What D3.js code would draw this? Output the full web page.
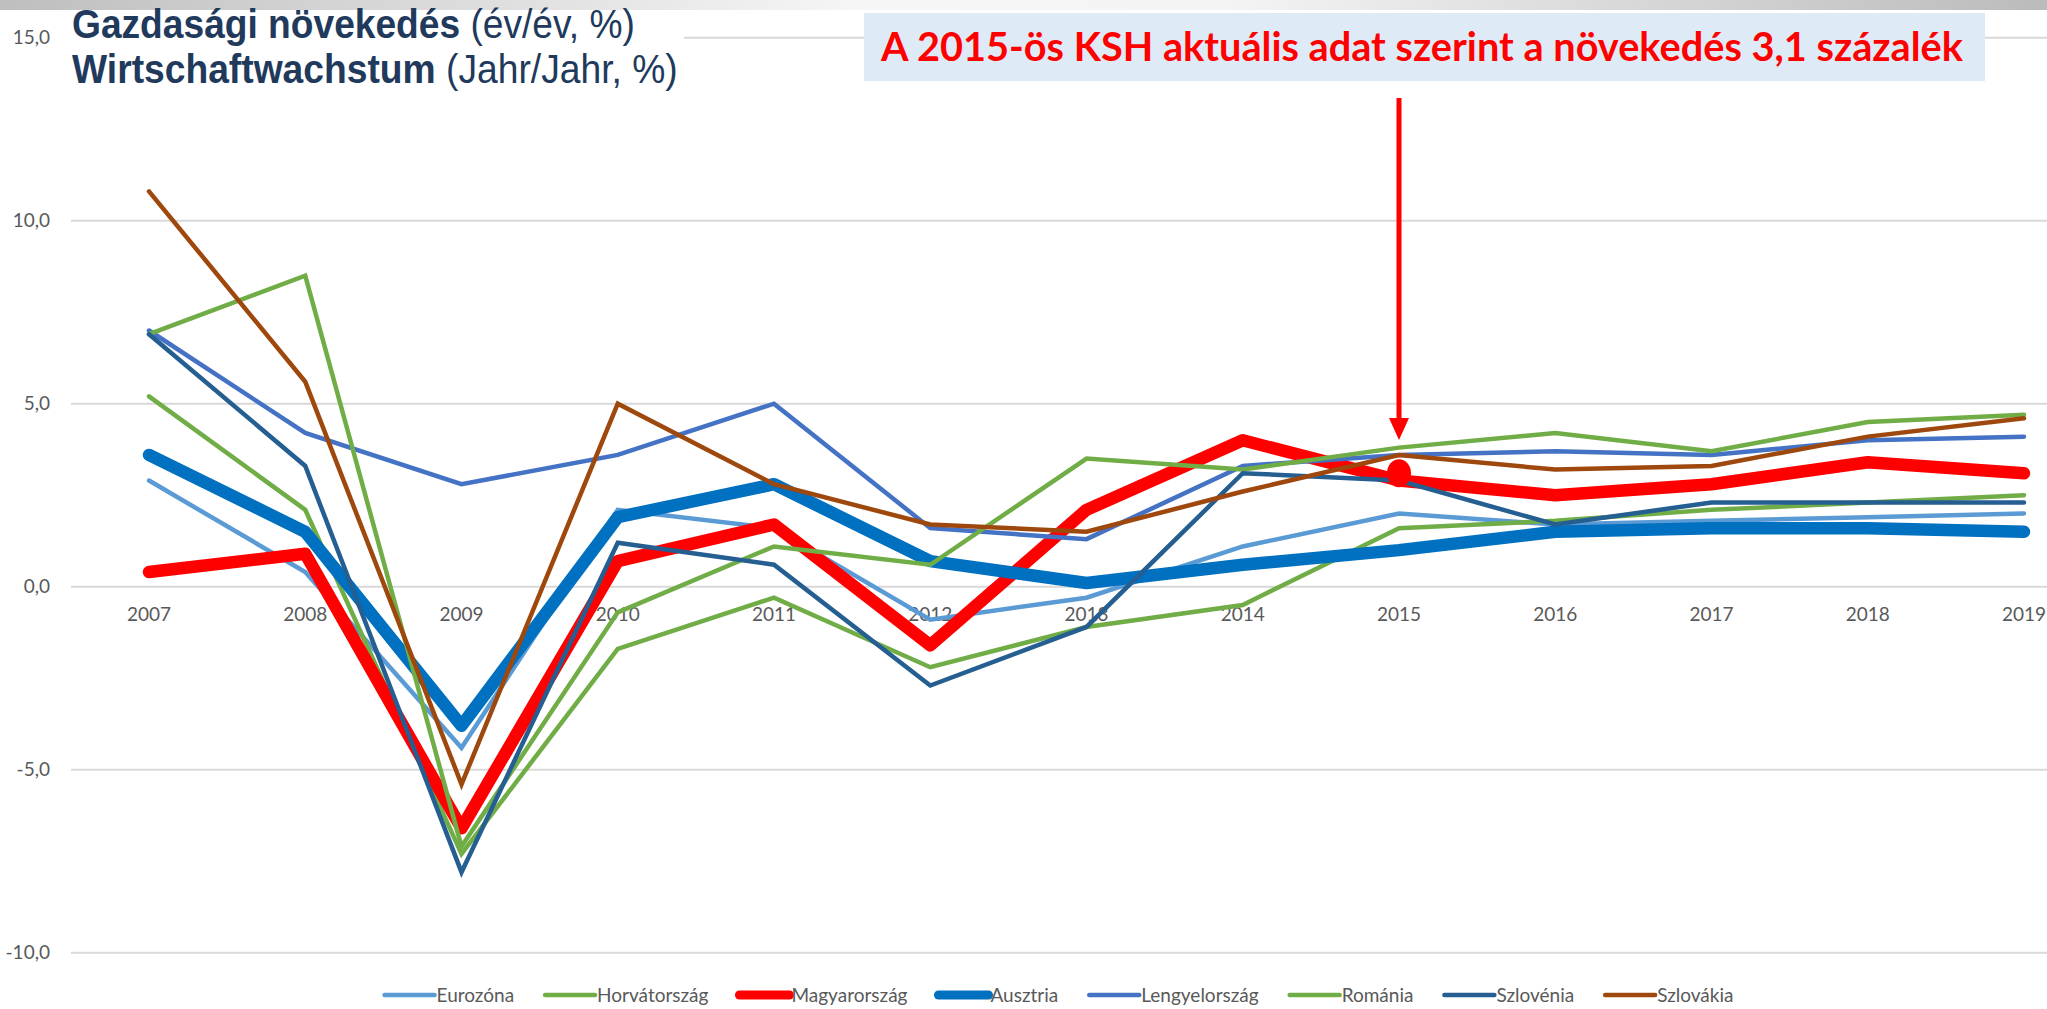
<!DOCTYPE html>
<html>
<head>
<meta charset="utf-8">
<script src="https://cdn.jsdelivr.net/npm/d3@7"></script>
<style>
  html, body { margin: 0; padding: 0; background: #ffffff; }
  svg { display: block; }
</style>
</head>
<body>
<svg id="chart" width="2047" height="1009"></svg>
<script>
// Years on the category axis
const years = ["2007","2008","2009","2010","2011","2012","2013","2014","2015","2016","2017","2018","2019"];

// Real GDP growth, % year on year
const eurozona      = [2.9, 0.4, -4.4, 2.1, 1.6, -0.9, -0.3, 1.1, 2.0, 1.7, 1.8, 1.9, 2.0];
const horvatorszag  = [5.2, 2.1, -7.3, -1.7, -0.3, -2.2, -1.1, -0.5, 1.6, 1.8, 2.1, 2.3, 2.5];
const magyarorszag  = [0.4, 0.9, -6.6, 0.7, 1.7, -1.6, 2.1, 4.0, 2.9, 2.5, 2.8, 3.4, 3.1];
const ausztria      = [3.6, 1.5, -3.8, 1.9, 2.8, 0.7, 0.1, 0.6, 1.0, 1.5, 1.6, 1.6, 1.5];
const lengyelorszag = [7.0, 4.2, 2.8, 3.6, 5.0, 1.6, 1.3, 3.3, 3.6, 3.7, 3.6, 4.0, 4.1];
const romania       = [6.9, 8.5, -7.1, -0.7, 1.1, 0.6, 3.5, 3.2, 3.8, 4.2, 3.7, 4.5, 4.7];
const szlovenia     = [6.9, 3.3, -7.8, 1.2, 0.6, -2.7, -1.1, 3.1, 2.9, 1.7, 2.3, 2.3, 2.3];
const szlovakia     = [10.8, 5.6, -5.4, 5.0, 2.8, 1.7, 1.5, 2.6, 3.6, 3.2, 3.3, 4.1, 4.6];

// Value-axis ticks
const yTicks = [-10, -5, 0, 5, 10, 15];

// Updated 2015 figure for Hungary (KSH)
const kshYear = "2015";
const kshValue = 3.1;

const series = [
  { name: "Eurozóna",      values: eurozona,      color: "#5B9BD5", thick: false },
  { name: "Horvátország",  values: horvatorszag,  color: "#70AD47", thick: false },
  { name: "Magyarország",  values: magyarorszag,  color: "#FF0000", thick: true  },
  { name: "Ausztria",      values: ausztria,      color: "#0070C0", thick: true  },
  { name: "Lengyelország", values: lengyelorszag, color: "#4472C4", thick: false },
  { name: "Románia",       values: romania,       color: "#70AD47", thick: false },
  { name: "Szlovénia",     values: szlovenia,     color: "#255E91", thick: false },
  { name: "Szlovákia",     values: szlovakia,     color: "#9E480E", thick: false }
];

const W = 2047, H = 1009;
const plotLeft = 71, plotRight = 2047;
const labelFont = "Lato, 'Open Sans', sans-serif";
const svg = d3.select("#chart");

const x = d3.scalePoint().domain(years).range([149, 2024]);
const y = d3.scaleLinear().domain([-10, 15]).range([952.7, 37.7]);

// Grey gradient strip along the top edge
const defs = svg.append("defs");
const grad = defs.append("linearGradient").attr("id", "topbar").attr("x1", "0").attr("x2", "1").attr("y1", "0").attr("y2", "0");
grad.append("stop").attr("offset", "0").attr("stop-color", "#BEBEBE");
grad.append("stop").attr("offset", "0.42").attr("stop-color", "#F6F6F6");
grad.append("stop").attr("offset", "0.6").attr("stop-color", "#F4F4F4");
grad.append("stop").attr("offset", "1").attr("stop-color", "#BBBBBB");
svg.append("rect").attr("x", 0).attr("y", 0).attr("width", W).attr("height", 10).attr("fill", "url(#topbar)");

// Horizontal gridlines
svg.append("g").selectAll("line").data(yTicks).join("line")
  .attr("x1", plotLeft).attr("x2", plotRight)
  .attr("y1", d => y(d)).attr("y2", d => y(d))
  .attr("stroke", "#D9D9D9").attr("stroke-width", 2);

// Value axis labels
const fmt = v => d3.format(".1f")(v).replace(".", ",").replace("−", "-");
svg.append("g").selectAll("text").data(yTicks).join("text")
  .attr("x", 50).attr("y", d => y(d)).attr("dy", "0.35em")
  .attr("text-anchor", "end")
  .attr("font-family", labelFont).attr("font-size", 19)
  .attr("fill", "#595959")
  .text(d => fmt(d));

// Category labels sit just under the zero line
svg.append("g").selectAll("text").data(years).join("text")
  .attr("x", d => x(d)).attr("y", y(0) + 28)
  .attr("dy", "0.35em")
  .attr("text-anchor", "middle")
  .attr("font-family", labelFont).attr("font-size", 19)
  .attr("fill", "#595959")
  .text(d => d);

// Series lines
const line = d3.line().x((d, i) => x(years[i])).y(d => y(d));
svg.append("g").selectAll("path").data(series).join("path")
  .attr("d", d => line(d.values))
  .attr("fill", "none")
  .attr("stroke", d => d.color)
  .attr("stroke-width", d => d.thick ? 12.5 : 4.5)
  .attr("stroke-linecap", "round")
  .attr("stroke-linejoin", d => d.thick ? "round" : "miter");

// Marker for the updated KSH figure
svg.append("ellipse")
  .attr("cx", x(kshYear)).attr("cy", y(kshValue))
  .attr("rx", 12).attr("ry", 14)
  .attr("fill", "#FF0000");

// Title block with white background
svg.append("rect").attr("x", 64).attr("y", 10).attr("width", 620).attr("height", 88).attr("fill", "#ffffff");
const titleLines = [
  { bold: "Gazdasági növekedés", rest: " (év/év, %)", baseline: 38, width: 563 },
  { bold: "Wirtschaftwachstum", rest: " (Jahr/Jahr, %)", baseline: 83, width: 606 }
];
titleLines.forEach(t => {
  const g = svg.append("g");
  const txt = g.append("text")
    .attr("x", 0).attr("y", 0)
    .attr("font-family", "'Liberation Sans Narrow', 'Liberation Sans', Arial, sans-serif")
    .attr("font-size", 40)
    .attr("fill", "#213A5C");
  txt.append("tspan").attr("font-weight", "bold").text(t.bold);
  txt.append("tspan").attr("font-weight", "normal").text(t.rest);
  const w = txt.node().getComputedTextLength();
  g.attr("transform", `translate(72,${t.baseline}) scale(${t.width / w},1)`);
});

// Call-out box
svg.append("rect").attr("x", 864).attr("y", 13).attr("width", 1121).attr("height", 68).attr("fill", "#DEEBF7");
svg.append("text")
  .attr("x", 881).attr("y", 61)
  .attr("font-family", labelFont)
  .attr("font-weight", "bold").attr("font-size", 40)
  .attr("fill", "#FF0000")
  .attr("textLength", 1082).attr("lengthAdjust", "spacingAndGlyphs")
  .text("A 2015-ös KSH aktuális adat szerint a növekedés 3,1 százalék");

// Arrow pointing at the 2015 value
const ax = x(kshYear);
svg.append("line").attr("x1", ax).attr("x2", ax).attr("y1", 98).attr("y2", 420)
  .attr("stroke", "#FF0000").attr("stroke-width", 5);
svg.append("path")
  .attr("d", `M${ax - 10},418 L${ax + 10},418 L${ax},440 Z`)
  .attr("fill", "#FF0000");

// Legend along the bottom, centred under the plot
const legendY = 995;
const legend = svg.append("g");
let cursor = 0;
series.forEach(s => {
  const g = legend.append("g");
  g.append("line").attr("x1", 0).attr("x2", 50).attr("y1", 0).attr("y2", 0)
    .attr("stroke", s.color).attr("stroke-width", s.thick ? 9 : 4.5).attr("stroke-linecap", "round");
  const t = g.append("text").attr("x", 52).attr("y", 0).attr("dy", "0.35em")
    .attr("font-family", labelFont).attr("font-size", 19)
    .attr("fill", "#595959").text(s.name);
  const w = 52 + t.node().getComputedTextLength();
  g.attr("transform", `translate(${cursor},${legendY})`);
  cursor += w + 31;
});
const total = cursor - 31;
legend.attr("transform", `translate(${(plotLeft + plotRight) / 2 - total / 2},0)`);
</script>
</body>
</html>
